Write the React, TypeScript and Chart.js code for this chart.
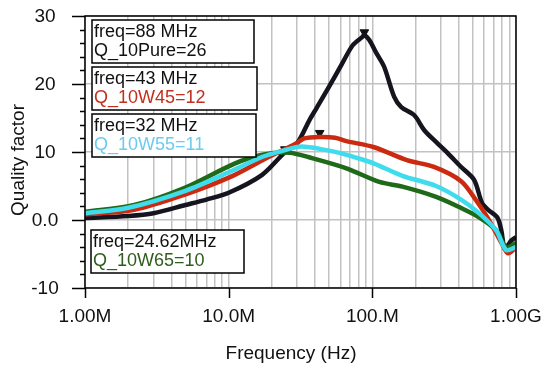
import React, { useEffect, useRef } from "react";
import { Chart, registerables } from "chart.js";

Chart.register(...registerables);

// Frequencies in Hz and quality factor values
const pureFreq = [1e6, 2e6, 3e6, 5e6, 7e6, 10e6, 17e6, 24.5e6, 30e6, 36.5e6, 41e6, 50e6, 62e6, 73e6, 85e6, 88e6, 95e6, 107e6, 121e6, 142e6, 159e6, 196e6, 230e6, 283e6, 332e6, 415e6, 511e6, 580e6, 640e6, 740e6, 790e6, 830e6, 870e6, 930e6, 1000e6];
const pureQ = [0.3, 0.6, 1.0, 2.2, 3.0, 4.0, 6.6, 9.9, 11.3, 14.7, 16.5, 19.6, 23.1, 25.7, 26.9, 27.2, 26.5, 24.5, 22.5, 18.1, 16.6, 15.4, 13.2, 11.3, 9.9, 7.8, 5.9, 2.5, 1.5, 0.4, -1.5, -4.2, -3.8, -3.0, -2.5];

const w45Freq = [1e6, 2.2e6, 4.9e6, 10.2e6, 17.2e6, 29.7e6, 33.7e6, 43e6, 55e6, 66e6, 103e6, 174e6, 269e6, 415e6, 527e6, 648e6, 794e6, 880e6, 1000e6];
const w45Q = [0.8, 1.5, 3.7, 6.3, 8.8, 11.3, 12.0, 12.2, 12.1, 11.6, 10.7, 8.8, 7.8, 5.7, 2.9, 0.0, -3.4, -4.9, -4.0];

const w55Freq = [1e6, 2e6, 5e6, 10.2e6, 17.2e6, 24e6, 32e6, 50e6, 61e6, 85e6, 103e6, 162e6, 278e6, 422e6, 553e6, 727e6, 853e6, 1000e6];
const w55Q = [1.0, 1.8, 4.3, 7.1, 9.3, 10.2, 10.8, 10.2, 9.8, 8.9, 8.3, 6.5, 5.0, 2.9, 1.0, -1.5, -4.4, -4.0];

const w65Freq = [1e6, 2.2e6, 4.9e6, 11e6, 17.2e6, 26.5e6, 38e6, 66e6, 112e6, 162e6, 278e6, 402e6, 553e6, 727e6, 853e6, 1000e6];
const w65Q = [1.2, 2.2, 4.7, 8.3, 9.6, 9.9, 9.1, 7.6, 5.6, 4.9, 3.4, 1.9, 0.4, -1.5, -4.0, -3.4];

const markerFreq = [88e6, 43e6, 24.62e6];
const markerQ = [27.6, 12.8, 10.4];

const xTickValues = [1e6, 1e7, 1e8, 1e9];
const xTickLabels = ["1.00M", "10.0M", "100.M", "1.00G"];
const yTickValues = [-10, 0, 10, 20, 30];
const yTickLabels = ["-10", "0.0", "10", "20", "30"];
const xTitle = "Frequency (Hz)";
const yTitle = "Quality factor";

const legendLines = [
  ["freq=88 MHz", "Q_10Pure=26"],
  ["freq=43 MHz", "Q_10W45=12"],
  ["freq=32 MHz", "Q_10W55=11"],
  ["freq=24.62MHz", "Q_10W65=10"],
];
const legendColors = ["#111111", "#c0301c", "#6ccbee", "#2e5c1c"];

const FONT = "'Liberation Sans', Arial, sans-serif";

const toPoints = (xs: number[], ys: number[]) => xs.map((x, i) => ({ x, y: ys[i] }));

const decorPlugin = {
  id: "decor",
  afterDraw(chart: any) {
    const { ctx, chartArea } = chart;
    const { left, right, top, bottom } = chartArea;
    const ys = chart.scales.y;
    const xs = chart.scales.x;
    ctx.save();
    // border
    ctx.strokeStyle = "#000";
    ctx.lineWidth = 1.5;
    ctx.strokeRect(left, top, right - left, bottom - top);
    // y ticks (major and minor)
    for (let v = -10; v <= 30; v += 2) {
      const y = Math.round(ys.getPixelForValue(v)) + 0.5;
      const len = v % 10 === 0 ? 13 : 5;
      ctx.beginPath();
      ctx.moveTo(left - len, y);
      ctx.lineTo(left, y);
      ctx.stroke();
    }
    // x ticks
    xTickValues.forEach((v) => {
      const x = Math.round(xs.getPixelForValue(v)) + 0.5;
      ctx.beginPath();
      ctx.moveTo(x, bottom);
      ctx.lineTo(x, bottom + 10);
      ctx.stroke();
    });
    // tick labels
    ctx.font = `19px ${FONT}`;
    ctx.fillStyle = "#111";
    ctx.textAlign = "center";
    ctx.textBaseline = "middle";
    yTickValues.forEach((v, i) => {
      ctx.fillText(yTickLabels[i], 45, ys.getPixelForValue(v) + 1);
    });
    ctx.textBaseline = "top";
    xTickValues.forEach((v, i) => {
      ctx.fillText(xTickLabels[i], xs.getPixelForValue(v), bottom + 19);
    });
    // titles
    ctx.textBaseline = "alphabetic";
    ctx.fillText(xTitle, 291, 359);
    ctx.save();
    ctx.translate(24, 160);
    ctx.rotate(-Math.PI / 2);
    ctx.fillText(yTitle, 0, 0);
    ctx.restore();
    // legend boxes
    const boxes = [
      [92, 20, 162, 43],
      [92, 67, 165, 43],
      [92, 114, 164, 43],
      [91, 230, 153, 43],
    ];
    ctx.font = `18px ${FONT}`;
    ctx.textAlign = "left";
    boxes.forEach((b, i) => {
      ctx.fillStyle = "#fff";
      ctx.fillRect(b[0], b[1], b[2], b[3]);
      ctx.strokeStyle = "#000";
      ctx.lineWidth = 1.5;
      ctx.strokeRect(b[0], b[1], b[2], b[3]);
      ctx.fillStyle = "#111";
      ctx.fillText(legendLines[i][0], b[0] + 2, b[1] + 17);
      ctx.fillStyle = legendColors[i];
      ctx.fillText(legendLines[i][1], b[0] + 2, b[1] + 36);
    });
    ctx.restore();
  },
};

export default function App() {
  const ref = useRef<HTMLCanvasElement>(null);
  useEffect(() => {
    document.body.style.margin = "0";
    const canvas = ref.current!;
    const lineDs = (label: string, xs: number[], ys: number[], color: string, width: number) => ({
      type: "line" as const,
      label,
      data: toPoints(xs, ys),
      borderColor: color,
      backgroundColor: color,
      borderWidth: width,
      pointRadius: 0,
      tension: 0.3,
      fill: false,
    });
    const chart = new Chart(canvas, {
      type: "line",
      data: {
        datasets: [
          lineDs("Q_10W55", w55Freq, w55Q, "#3fdcee", 4.5),
          lineDs("Q_10W45", w45Freq, w45Q, "#cc2a10", 4.5),
          lineDs("Q_10W65", w65Freq, w65Q, "#1f6a18", 4.5),
          lineDs("Q_10Pure", pureFreq, pureQ, "#15151f", 4.5),
          {
            type: "scatter" as const,
            label: "markers",
            data: toPoints(markerFreq, markerQ),
            pointStyle: "triangle",
            rotation: 180,
            pointRadius: 5,
            backgroundColor: "#111",
            borderColor: "#111",
            borderWidth: 1,
          } as any,
        ],
      },
      options: {
        responsive: false,
        animation: false,
        layout: { padding: { top: 16, right: 34, left: 0, bottom: 0 } },
        plugins: { legend: { display: false }, tooltip: { enabled: false } },
        scales: {
          x: {
            type: "logarithmic",
            min: 1e6,
            max: 1e9,
            afterBuildTicks: (scale: any) => {
              const t: any[] = [];
              for (let d = 1e6; d < 1e9; d *= 10) {
                for (let m = 1; m < 10; m++) t.push({ value: d * m });
              }
              t.push({ value: 1e9 });
              scale.ticks = t;
            },
            afterFit: (scale: any) => {
              scale.height = 81;
            },
            ticks: { display: false, autoSkip: false },
            grid: { drawTicks: false, color: "#c2c2c2", lineWidth: 1.5 },
            border: { display: false },
          },
          y: {
            min: -10,
            max: 30,
            afterBuildTicks: (scale: any) => {
              scale.ticks = yTickValues.map((v) => ({ value: v }));
            },
            afterFit: (scale: any) => {
              scale.width = 85;
            },
            ticks: { display: false },
            grid: { drawTicks: false, color: "#c2c2c2", lineWidth: 1.5 },
            border: { display: false },
          },
        },
      },
      plugins: [decorPlugin],
    } as any);
    return () => chart.destroy();
  }, []);
  return <canvas ref={ref} width={550} height={369} style={{ display: "block" }} />;
}
